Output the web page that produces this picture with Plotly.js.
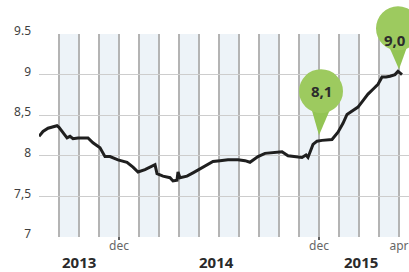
<!DOCTYPE html>
<html>
<head>
<meta charset="utf-8">
<script src="https://cdn.plot.ly/plotly-3.0.1.min.js"></script>
<style>html,body{margin:0;padding:0;background:#fff;}#chart{width:409px;height:272px;}</style>
</head>
<body>
<div id="chart"></div>
<script>
// x positions in grid units (one unit = one gridline interval), y = values
const xPos = [0, 0.2, 0.45, 0.7, 0.9, 1.0, 1.15, 1.3, 1.4, 1.55, 1.7, 1.95, 2.45, 2.7, 3.05, 3.3, 3.55, 3.95, 4.4, 4.7,
  4.95, 5.3, 5.65, 5.8, 5.9, 6.2, 6.55, 6.7, 6.9, 6.95, 7.05, 7.4, 7.7, 8.05, 8.4, 8.7, 9.05, 9.45, 9.95, 10.3,
  10.55, 10.95, 11.3, 11.8, 12.15, 12.45, 12.8, 13.15, 13.35, 13.45, 13.7, 13.9, 14.15, 14.65, 14.95, 15.2, 15.4,
  15.65, 15.95, 16.2, 16.45, 16.7, 16.95, 17.15, 17.35, 17.55, 17.8, 17.95, 18.15];
const values = [8.24, 8.30, 8.34, 8.36, 8.37, 8.35, 8.30, 8.25, 8.22, 8.24, 8.21, 8.22, 8.22, 8.16, 8.10, 7.99, 7.99, 7.95, 7.92, 7.86,
  7.80, 7.83, 7.87, 7.89, 7.78, 7.75, 7.73, 7.69, 7.70, 7.80, 7.73, 7.75, 7.79, 7.84, 7.89, 7.93, 7.94, 7.95, 7.95, 7.94,
  7.92, 7.99, 8.03, 8.04, 8.05, 8.00, 7.99, 7.98, 8.01, 7.98, 8.14, 8.18, 8.19, 8.20, 8.29, 8.40, 8.51,
  8.55, 8.60, 8.68, 8.76, 8.82, 8.88, 8.97, 8.97, 8.98, 9.00, 9.04, 9.00];

const gridPos = [0, 1, 2, 3, 4, 5, 6, 7, 8, 9, 10, 11, 12, 13, 14, 15, 16, 17, 18];
const tickPos = [4, 14, 18];
const tickLabels = ["dec", "dec", "apr"];
const yearPos = [2.0, 8.85, 16.1];
const yearLabels = ["2013", "2014", "2015"];
const yTickVals = [7, 7.5, 8, 8.5, 9, 9.5];
const yTickText = ["7", "7,5", "8", "8,5", "9", "9.5"];
const bandStarts = [1, 3, 5, 7, 9, 11, 13, 15, 17];
const darkLinePos = [4, 14];
const bubbleX = [14, 18];
const bubbleText = ["8,1", "9,0"];

const yRange = [7, 9.5];
const xRange = [0, 18.5];

function nearestValue(x) {
  let best = 0;
  for (let i = 1; i < xPos.length; i++) {
    if (Math.abs(xPos[i] - x) < Math.abs(xPos[best] - x)) best = i;
  }
  return values[best];
}
function toPaper(v) { return (v - yRange[0]) / (yRange[1] - yRange[0]); }

const xTickText = gridPos.map(p => {
  const k = tickPos.indexOf(p);
  return k >= 0 ? tickLabels[k] : '';
});

const shapes = [];
bandStarts.forEach(s => shapes.push({
  type: 'rect', xref: 'x', yref: 'paper', x0: s, x1: s + 1, y0: 0, y1: 1,
  fillcolor: '#edf3f8', line: {width: 0}, layer: 'below'
}));
darkLinePos.forEach(p => shapes.push({
  type: 'line', xref: 'x', yref: 'paper', x0: p, x1: p, y0: -0.015, y1: 1,
  line: {color: '#3a3a3a', width: 1.6}, layer: 'between'
}));

const annotations = [];
const green = '#9dca5f';
const bubbleDx = [2, -1];
const bubbleDy = [50, 43];
const tipGap = [6, 2];
const textDx = [2, -4];
bubbleX.forEach((bx, i) => {
  const py = toPaper(nearestValue(bx));
  const cx = bubbleDx[i], cy = bubbleDy[i], r = 22, tip = tipGap[i];
  shapes.push({
    type: 'path', xref: 'x', yref: 'paper', xsizemode: 'pixel', ysizemode: 'pixel',
    xanchor: bx, yanchor: py,
    path: `M ${cx - 10} ${cy - 16} L 0 ${tip} L ${cx + 10} ${cy - 16} Z`,
    fillcolor: '#93c454', line: {width: 0}, layer: 'above'
  });
  shapes.push({
    type: 'circle', xref: 'x', yref: 'paper', xsizemode: 'pixel', ysizemode: 'pixel',
    xanchor: bx, yanchor: py, x0: cx - r, x1: cx + r, y0: cy - r, y1: cy + r,
    fillcolor: green, line: {width: 0}, layer: 'above'
  });
  annotations.push({
    xref: 'x', yref: 'paper', x: bx, y: py, xshift: textDx[i], yshift: cy,
    text: '<b>' + bubbleText[i] + '</b>', showarrow: false,
    font: {family: 'Open Sans', size: 15, color: '#2c2c2c'}
  });
});
yearLabels.forEach((t, i) => annotations.push({
  xref: 'x', yref: 'paper', x: yearPos[i], y: -0.125, yanchor: 'middle',
  text: '<b>' + t + '</b>', showarrow: false,
  font: {family: 'Open Sans', size: 15, color: '#2a2a2a'}
}));

const data = [{
  x: xPos, y: values, type: 'scatter', mode: 'lines',
  line: {color: '#1f1f1f', width: 3}, hoverinfo: 'skip'
}];

const layout = {
  width: 409, height: 272,
  margin: {l: 39, r: 0, t: 34, b: 35},
  paper_bgcolor: '#ffffff', plot_bgcolor: '#ffffff',
  showlegend: false,
  xaxis: {
    range: xRange, tickmode: 'array', tickvals: gridPos, ticktext: xTickText,
    showgrid: true, gridcolor: '#b4b4b4', gridwidth: 1.5,
    zeroline: false, showline: false, ticks: '',
    tickfont: {family: 'Noto Sans', size: 12, color: '#666666'}
  },
  yaxis: {
    range: yRange, tickmode: 'array', tickvals: yTickVals, ticktext: yTickText,
    showgrid: true, gridcolor: '#cdcdcd', gridwidth: 1, zeroline: false, showline: false, ticks: '',
    ticklabelstandoff: 7, ticklabelshift: -3,
    tickfont: {family: 'Noto Sans', size: 12, color: '#3f3f3f'}
  },
  shapes: shapes,
  annotations: annotations
};

Plotly.newPlot('chart', data, layout, {staticPlot: true, displayModeBar: false});
</script>
</body>
</html>
